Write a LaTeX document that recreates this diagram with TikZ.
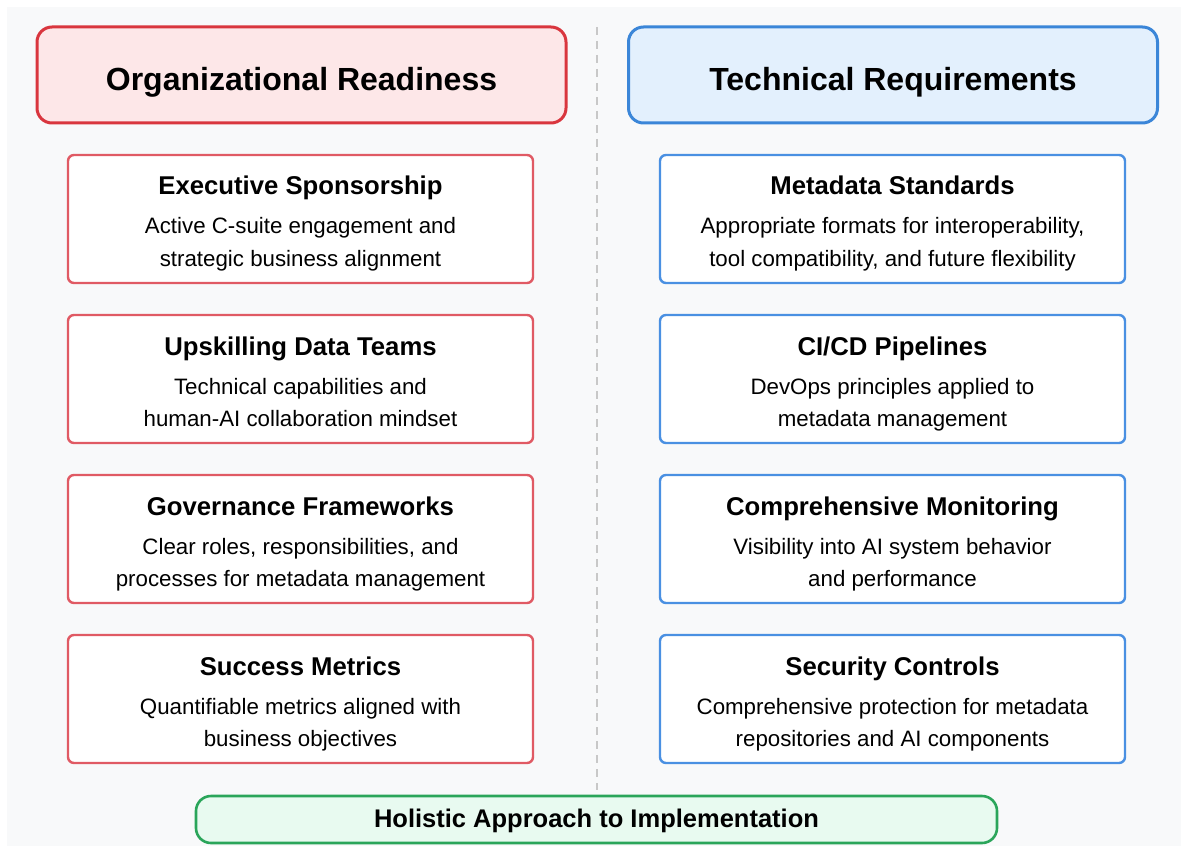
\documentclass[tikz,border=0pt]{standalone}
\usepackage{fontspec}
\setmainfont{Liberation Sans}
\begin{document}
\definecolor{pagebg}{HTML}{F8F9FA}
\definecolor{orgline}{HTML}{D9363E}
\definecolor{orgfill}{HTML}{FDE7E8}
\definecolor{orgcard}{HTML}{E05A64}
\definecolor{techline}{HTML}{3B86D8}
\definecolor{techfill}{HTML}{E3F0FD}
\definecolor{techcard}{HTML}{4A90E2}
\definecolor{footline}{HTML}{2AA55A}
\definecolor{footfill}{HTML}{E8FAF0}
\definecolor{divider}{HTML}{C8C8C8}
\begin{tikzpicture}[x=1pt,y=-1pt,
  header/.style={draw, line width=3pt, rounded corners=15pt,
    minimum width=529pt, minimum height=96pt, inner sep=0pt},
  headtext/.style={anchor=base, inner sep=0pt, font=\bfseries\fontsize{32}{36}\selectfont},
  card/.style={draw, fill=white, line width=2.4pt, rounded corners=6pt,
    minimum width=465pt, minimum height=128pt, inner sep=0pt},
  cardtitle/.style={anchor=base, inner sep=0pt, font=\bfseries\fontsize{25.7}{30}\selectfont},
  carddesc/.style={anchor=base, inner sep=0pt, font=\fontsize{22.3}{28}\selectfont},
  footer/.style={draw=footline, fill=footfill, line width=2.6pt, rounded corners=15pt,
    minimum width=801pt, minimum height=47pt, inner sep=0pt},
  foottext/.style={anchor=base, inner sep=0pt, font=\bfseries\fontsize{25.5}{30}\selectfont}
]
\useasboundingbox (0,0) rectangle (1185,850);
\fill[white] (0,0) rectangle (1185,850);
\fill[pagebg] (7,7) rectangle (1181,846);

% column divider
\coordinate (divtop) at (597,27);
\coordinate (divbot) at (597,790);
\draw[divider, line width=2pt, dash pattern=on 8pt off 6pt] (divtop) -- (divbot);

% column headers
\node[header, draw=orgline, fill=orgfill] (orghead) at (301.5,75) {};
\node[headtext] (orghead-text) at ([yshift=-16pt]orghead.center) {Organizational Readiness};
\node[header, draw=techline, fill=techfill] (techhead) at (893,75) {};
\node[headtext] (techhead-text) at ([yshift=-16pt]techhead.center) {Technical Requirements};

% cards: name, x, y, colour, title, two description lines
\foreach \nm/\cx/\cy/\col/\ttl/\la/\lb in {
  exec/300.5/219/orgcard/Executive Sponsorship/Active C-suite engagement and/strategic business alignment,
  upskill/300.5/379/orgcard/Upskilling Data Teams/Technical capabilities and/human-AI collaboration mindset,
  gov/300.5/539/orgcard/Governance Frameworks/{Clear roles, responsibilities, and}/processes for metadata management,
  metrics/300.5/699/orgcard/Success Metrics/Quantifiable metrics aligned with/business objectives,
  meta/892.5/219/techcard/Metadata Standards/{Appropriate formats for interoperability,}/{tool compatibility, and future flexibility},
  cicd/892.5/379/techcard/{CI/CD Pipelines}/DevOps principles applied to/metadata management,
  monitor/892.5/539/techcard/Comprehensive Monitoring/Visibility into AI system behavior/and performance,
  security/892.5/699/techcard/Security Controls/Comprehensive protection for metadata/repositories and AI components}
{
  \node[card, draw=\col] (\nm) at (\cx,\cy) {};
  \node[cardtitle] (\nm-title) at ([yshift=24pt]\nm.center) {\ttl};
  \node[carddesc] (\nm-desca) at ([yshift=-15pt]\nm.center) {\la};
  \node[carddesc] (\nm-descb) at ([yshift=-47pt]\nm.center) {\lb};
}

% closing banner
\node[footer] (holistic) at (596.5,819.5) {};
\node[foottext] (holistic-text) at ([yshift=-8pt]holistic.center) {Holistic Approach to Implementation};
\end{tikzpicture}
\end{document}
